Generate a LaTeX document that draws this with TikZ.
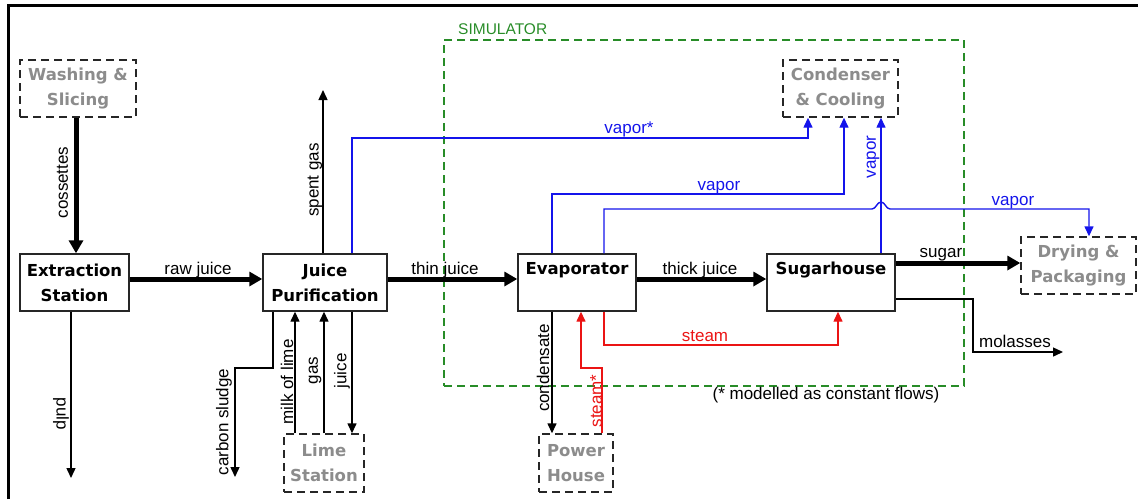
\documentclass[tikz,border=0pt]{standalone}
\usepackage{fontspec}
\setmainfont{Liberation Sans}
\newfontfamily\boxfont{DejaVu Sans}
\usetikzlibrary{arrows.meta}
\definecolor{vblue}{RGB}{20,20,235}
\definecolor{sred}{RGB}{235,20,20}
\definecolor{simgreen}{RGB}{40,140,40}
\definecolor{ghost}{RGB}{140,140,140}
\begin{document}
\begin{tikzpicture}[x=1pt,y=-1pt,
  proc/.style={draw=black!85, line width=1.4pt, fill=white, inner sep=0pt, align=center,
    font=\boxfont\bfseries\fontsize{16.5}{25}\selectfont},
  ext/.style={proc, dash pattern=on 8pt off 5pt, text=ghost},
  boxtxt/.style={font=\boxfont\bfseries\fontsize{16.5}{25}\selectfont, inner sep=0pt},
  flow/.style={line width=1.4pt, -{Triangle[length=10pt,width=9pt]}},
  mainflow/.style={line width=5pt, -{Triangle[length=13pt,width=14pt]}},
  lbl/.style={font=\fontsize{17}{20}\selectfont, inner sep=0pt},
]
\useasboundingbox (0,0) rectangle (1138,499);
% frame
\draw[line width=2.5pt] (8.5,499) -- (8.5,5.5) -- (1138,5.5);

% simulator region
\node[draw=simgreen, line width=1.3pt, dash pattern=on 8pt off 5pt, minimum width=520pt, minimum height=346pt, inner sep=0pt] (sim) at (704,213) {};
\node[lbl, text=simgreen, anchor=base west, font=\fontsize{15.5}{18}\selectfont] (simlbl) at (458,34) {SIMULATOR};

% process boxes
\node[proc, minimum width=109pt, minimum height=57pt] (ex) at (74.5,282.5) {Extraction\\Station};
\node[proc, minimum width=124pt, minimum height=57pt] (jp) at (325,282.5) {Juice\\Purification};
\node[proc, minimum width=118pt, minimum height=57pt] (ev) at (577,282.5) {};
\node[boxtxt, anchor=north] (evt) at (577,262) {Evaporator};
\node[proc, minimum width=128pt, minimum height=57pt] (sh) at (831,282.5) {};
\node[boxtxt, anchor=north] (sht) at (831,262) {Sugarhouse};

% external boxes
\node[ext, minimum width=116pt, minimum height=57pt] (ws) at (78,88.5) {Washing \&\\Slicing};
\node[ext, minimum width=115pt, minimum height=57pt] (cc) at (840.5,88.5) {Condenser\\\& Cooling};
\node[ext, minimum width=115pt, minimum height=57pt] (dp) at (1078.5,265.5) {Drying \&\\Packaging};
\node[ext, minimum width=80pt, minimum height=58pt] (ls) at (324,463) {Lime\\Station};
\node[ext, minimum width=74pt, minimum height=58pt] (ph) at (576,463) {Power\\House};

% free ends
\coordinate (pulpend) at (71,478);
\coordinate (gasend) at (323,90);
\coordinate (sludgeend) at (235,477);
\coordinate (molend) at (1063,352);

% main flows
\draw[mainflow] (ws.south -| 76,0) -- (ex.north -| 76,0);
\node[lbl, rotate=90] (lcos) at (62.5,182.5) {cossettes};

\draw[mainflow] (ex.east |- 0,279) -- (jp.west |- 0,279);
\node[lbl, anchor=base] (lraw) at (198,274) {raw juice};

\draw[mainflow] (jp.east |- 0,279) -- (ev.west |- 0,279);
\node[lbl, anchor=base] (lthin) at (445,274) {thin juice};

\draw[mainflow] (ev.east |- 0,279) -- (sh.west |- 0,279);
\node[lbl, anchor=base] (lthick) at (700,274) {thick juice};

\draw[mainflow] (sh.east |- 0,263) -- (dp.west |- 0,263);
\node[lbl, anchor=base] (lsugar) at (941,257) {sugar};

% thin black flows
\draw[flow] (ex.south -| pulpend) -- (pulpend);
\node[lbl, rotate=-90] (lpulp) at (61,414) {pulp};

\draw[flow] (jp.north -| gasend) -- (gasend);
\node[lbl, rotate=90] (lspent) at (315,180) {spent gas};

\draw[flow] (jp.south -| 273,0) -- (273,368) -- (235,368) -- (sludgeend);
\node[lbl, rotate=90] (lsludge) at (224,422) {carbon sludge};

\draw[flow] (ls.north -| 295,0) -- (jp.south -| 295,0);
\node[lbl, rotate=90] (lmilk) at (287,382) {milk of lime};

\draw[flow] (ls.north -| 324,0) -- (jp.south -| 324,0);
\node[lbl, rotate=90] (lgas) at (315,370.5) {gas};

\draw[flow] (jp.south -| 352,0) -- (ls.north -| 352,0);
\node[lbl, rotate=90] (ljuice) at (342,371) {juice};

\draw[flow] (ev.south -| 552,0) -- (ph.north -| 552,0);
\node[lbl, rotate=90] (lcond) at (543,368) {condensate};

\draw[flow] (sh.east |- 0,299) -- (973,299) -- (973,352) -- (molend);
\node[lbl, anchor=base] (lmol) at (1015,347) {molasses};

% vapor flows
\draw[flow, vblue] (jp.north -| 352,0) -- (352,138) -- (808,138) -- (cc.south -| 808,0);
\node[lbl, anchor=base, text=vblue] (lvap1) at (629,133) {vapor*};

\draw[flow, vblue] (ev.north -| 552,0) -- (552,194) -- (844,194) -- (cc.south -| 844,0);
\node[lbl, anchor=base, text=vblue] (lvap2) at (719,190) {vapor};

\draw[flow, vblue] (ev.north -| 604,0) -- (604,209) -- (872,209)
  .. controls (876,209) and (877,202) .. (881,202)
  .. controls (885,202) and (886,209) .. (890,209) -- (1089,209) -- (dp.north -| 1089,0);
\node[lbl, anchor=base, text=vblue] (lvap3) at (1013,205) {vapor};

\draw[flow, vblue] (sh.north -| 881,0) -- (cc.south -| 881,0);
\node[lbl, rotate=90, text=vblue] (lvap4) at (873,157) {vapor};

% steam flows
\draw[flow, sred] (ev.south -| 604,0) -- (604,345) -- (838,345) -- (sh.south -| 838,0);
\node[lbl, anchor=base, text=sred] (lsteam) at (705,341) {steam};

\draw[flow, sred] (ph.north -| 602,0) -- (602,368) -- (581,368) -- (ev.south -| 581,0);
\node[lbl, rotate=90, text=sred] (lsteam2) at (596,401) {steam*};

% note
\node[lbl, anchor=base] (note) at (826,399) {(* modelled as constant flows)};
\end{tikzpicture}
\end{document}
